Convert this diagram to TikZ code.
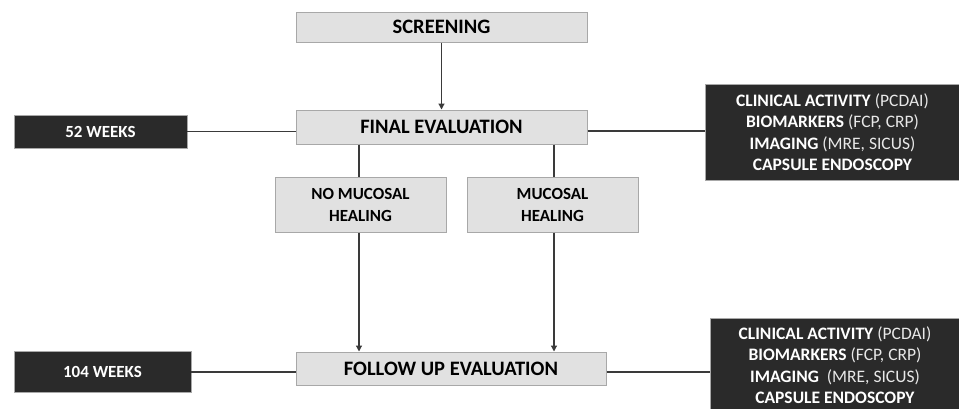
\documentclass[tikz,border=0pt]{standalone}
\usepackage{fontspec}
\setmainfont{Carlito}
\usetikzlibrary{arrows.meta}
\definecolor{lightbox}{HTML}{E1E1E1}
\definecolor{lightedge}{HTML}{A8A8A8}
\definecolor{darkbox}{HTML}{2A2A2A}
\definecolor{linecol}{HTML}{3A3A3A}
\definecolor{subtext}{HTML}{E8E8E8}
\begin{document}
\begin{tikzpicture}[x=1pt,y=-1pt,
  lbox/.style={draw=lightedge,line width=1pt,fill=lightbox,inner sep=0pt,align=center,font=\fontsize{20.5}{24}\selectfont\bfseries,text=black},
  dbox/.style={draw=lightedge,line width=0.8pt,fill=darkbox,inner sep=0pt,align=center,text=white},
  conn/.style={draw=linecol,line width=1.2pt},
  arr/.style={conn,-{Triangle[width=6pt,length=6pt]}}]
\useasboundingbox (0,0) rectangle (959,408);
\node[lbox,minimum width=291,minimum height=30] (scr) at (441.5,27) {SCREENING};
\node[lbox,minimum width=291,minimum height=34] (fin) at (441.5,127) {FINAL EVALUATION};
\node[dbox,minimum width=173,minimum height=33,font=\fontsize{17}{20}\selectfont\bfseries] (w52) at (100.5,131.5) {52 WEEKS};
\node[dbox,minimum width=255,minimum height=96,font=\fontsize{17.5}{21.5}\selectfont] (crt) at (832.5,132) {\textbf{CLINICAL ACTIVITY} \textcolor{subtext}{(PCDAI)}\\\textbf{BIOMARKERS} \textcolor{subtext}{(FCP, CRP)}\\\textbf{IMAGING} \textcolor{subtext}{(MRE, SICUS)}\\\textbf{CAPSULE ENDOSCOPY}};
\node[lbox,minimum width=171,minimum height=55,font=\fontsize{17}{22}\selectfont\bfseries] (nmh) at (360.5,204.5) {NO MUCOSAL\\HEALING};
\node[lbox,minimum width=171,minimum height=55,font=\fontsize{17}{22}\selectfont\bfseries] (mh) at (552.5,204.5) {MUCOSAL\\HEALING};
\node[lbox,minimum width=310,minimum height=33] (fol) at (451,368.5) {FOLLOW UP EVALUATION};
\node[dbox,minimum width=177,minimum height=41,font=\fontsize{17}{20}\selectfont\bfseries] (w104) at (102.5,371.5) {104 WEEKS};
\node[dbox,minimum width=250,minimum height=94,font=\fontsize{17.5}{21.5}\selectfont] (crb) at (835,365) {\textbf{CLINICAL ACTIVITY} \textcolor{subtext}{(PCDAI)}\\\textbf{BIOMARKERS} \textcolor{subtext}{(FCP, CRP)}\\\textbf{IMAGING}\ \ \textcolor{subtext}{(MRE, SICUS)}\\\textbf{CAPSULE ENDOSCOPY}};
\draw[arr] (scr.south) -- (fin.north);
\draw[conn] (w52.east) -- (w52.east -| fin.west);
\draw[conn] (fin.east |- 0,131) -- (crt.west |- 0,131);
\draw[conn] (fin.south -| 359,0) -- (nmh.north -| 359,0);
\draw[conn] (fin.south -| 554,0) -- (mh.north -| 554,0);
\draw[arr] (nmh.south -| 359,0) -- (fol.north -| 359,0);
\draw[arr] (mh.south -| 554,0) -- (fol.north -| 554,0);
\draw[conn] (w104.east |- 0,372) -- (fol.west |- 0,372);
\draw[conn] (fol.east |- 0,372) -- (crb.west |- 0,372);
\end{tikzpicture}
\end{document}
